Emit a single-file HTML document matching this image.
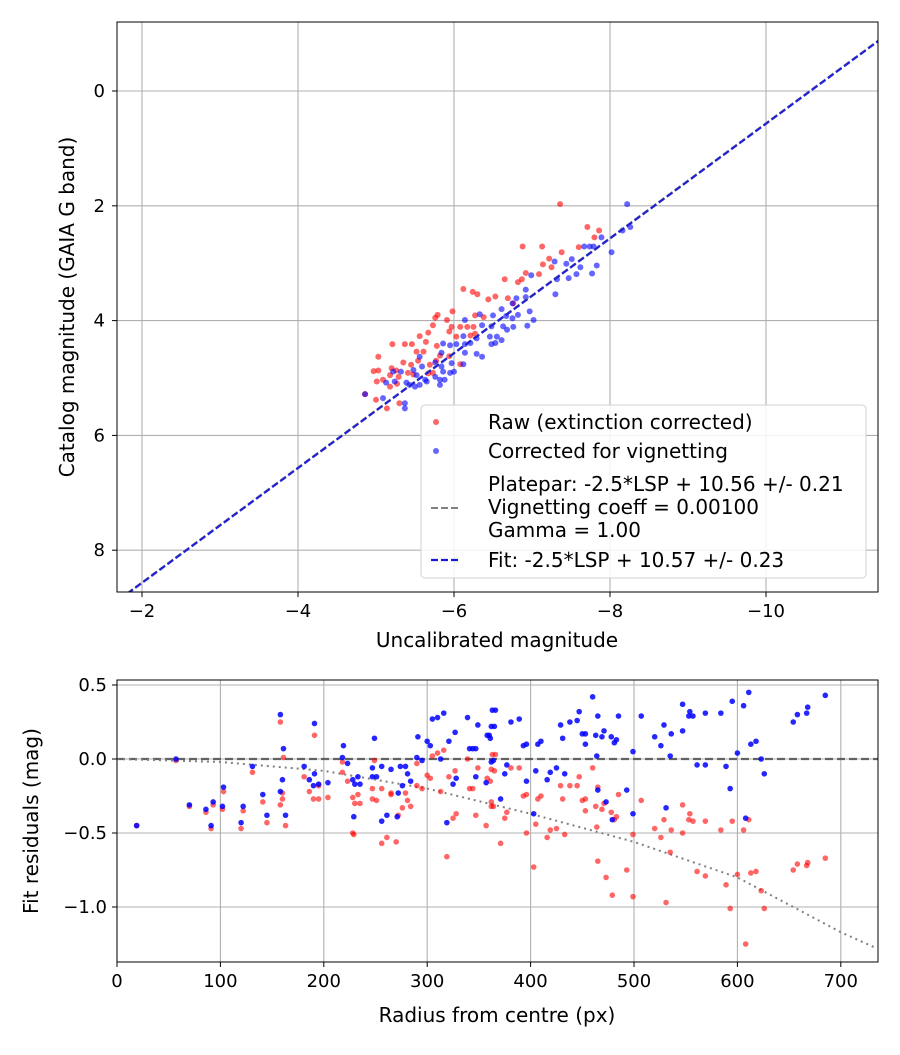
<!DOCTYPE html>
<html><head><meta charset="utf-8"><style>
body{margin:0;background:#fff}
svg text{font-family:"DejaVu Sans","Liberation Sans",sans-serif;fill:#000}
</style></head><body>
<svg id="c" width="900" height="1050" viewBox="0 0 900 1050" xmlns="http://www.w3.org/2000/svg">
<g id="top"></g>
<g id="bot"></g>
</svg>
<script>
// ----- top panel data -----
const topXTicks=[-2,-4,-6,-8,-10];
const topYTicks=[0,2,4,6,8];
const rawX=[-7.36,-7.71,-7.86,-7.8,-6.88,-7.13,-7.38,-7.6,-7.22,-7.14,-7.25,-6.92,-7.09,-6.82,-6.87,-6.65,-6.12,-6.24,-6.3,-6.44,-6.53,-6.69,-6.76,-5.98,-5.79,-5.76,-5.91,-6.27,-6.38,-5.73,-5.97,-6.08,-6.17,-6.25,-5.56,-5.67,-5.64,-5.37,-5.46,-5.78,-5.94,-6.03,-6.27,-6.21,-5.21,-5.52,-5.61,-5.82,-5.94,-5.03,-5.35,-5.45,-5.54,-5.69,-5.77,-4.97,-5.03,-5.2,-5.26,-5.18,-5.29,-5.41,-5.48,-5.01,-5.09,-5.18,-5.27,-5.67,-5.73,-6.08,-5.0,-5.14,-5.3,-4.86];
const rawY=[1.97,2.37,2.43,2.55,2.71,2.71,2.81,2.72,2.92,3.02,3.07,3.17,3.19,3.33,3.28,3.28,3.45,3.5,3.54,3.63,3.58,3.61,3.7,3.84,3.9,3.95,3.99,3.91,3.94,4.08,4.11,4.11,4.11,4.11,4.27,4.21,4.37,4.41,4.41,4.44,4.19,4.28,4.23,4.26,4.41,4.54,4.54,4.61,4.62,4.63,4.73,4.77,4.7,4.77,4.7,4.88,4.87,4.83,4.87,4.95,4.98,4.91,4.94,5.06,5.03,5.15,5.1,4.92,4.91,4.76,5.38,5.53,5.44,5.28];
const corX=[-8.22,-8.26,-8.16,-7.89,-8.02,-7.67,-7.74,-7.79,-7.83,-7.77,-7.57,-7.47,-7.62,-7.29,-7.44,-7.51,-6.99,-6.92,-7.32,-7.3,-6.92,-6.8,-6.75,-6.82,-6.97,-7.02,-6.94,-6.5,-6.61,-6.67,-6.75,-6.33,-6.14,-6.36,-6.48,-6.63,-6.68,-6.76,-6.46,-6.55,-6.61,-6.48,-6.53,-6.29,-6.21,-6.12,-5.86,-5.95,-6.03,-6.14,-5.84,-6.14,-6.29,-6.36,-5.97,-6.12,-5.76,-5.84,-5.56,-5.59,-5.86,-5.95,-6.0,-5.48,-5.52,-5.32,-5.22,-5.76,-5.82,-5.88,-5.63,-5.65,-5.13,-5.24,-5.39,-5.43,-5.5,-5.56,-5.82,-5.09,-5.37,-5.37,-4.86];
const corY=[1.97,2.37,2.43,2.55,2.81,2.71,2.71,2.71,3.04,3.18,3.19,3.26,3.07,2.97,3.01,2.93,3.21,3.46,3.28,3.54,3.59,3.61,3.7,3.9,3.84,3.99,4.09,3.91,3.8,3.92,3.96,3.89,3.99,4.08,4.1,4.1,4.16,4.11,4.28,4.28,4.34,4.41,4.39,4.31,4.39,4.27,4.4,4.43,4.41,4.41,4.56,4.56,4.58,4.63,4.74,4.76,4.73,4.8,4.63,4.8,4.89,4.91,4.89,4.86,4.95,4.89,4.89,4.98,5.03,5.03,5.03,5.06,5.08,5.06,5.08,5.12,5.15,5.12,5.12,5.35,5.44,5.53,5.28];
const fitZero=10.57;
// ----- bottom panel data -----
const botXTicks=[0,100,200,300,400,500,600,700];
const botYTicks=[0.5,0.0,-0.5,-1.0];
const resBlueR=[19,57,70,86,93,91,102,103,122,120,131,141,145,158,161,160,158,163,181,186,191,191,190,195,204,219,218,223,228,233,230,235,229,247,249,247,251,256,265,261,256,271,274,279,281,284,276,272,290,291,295,300,303,305,310,316,313,321,327,328,325,319,339,341,344,347,349,347,357,358,360,362,362,363,366,365,361,381,389,393,396,407,410,429,431,438,445,447,460,465,450,453,453,463,469,471,478,483,481,485,507,499,464,520,526,529,536,535,547,547,554,553,557,569,584,595,606,611,600,613,618,623,626,561,569,589,593,608,654,658,667,668,685,364,375,377,396,405,416,419,425,433,371,403,465,473,479,493,499,531];
const resBlueV=[-0.45,0.0,-0.31,-0.34,-0.29,-0.45,-0.32,-0.19,-0.32,-0.43,-0.05,-0.24,-0.38,0.30,0.07,-0.14,-0.22,-0.38,-0.05,-0.14,-0.1,0.24,-0.18,-0.17,-0.16,0.09,0.01,-0.03,-0.14,-0.12,-0.17,-0.17,-0.39,-0.06,0.14,-0.12,-0.12,-0.05,-0.07,-0.38,-0.42,-0.39,-0.05,-0.05,-0.1,-0.15,-0.18,-0.23,0.01,0.15,-0.01,0.12,0.09,0.27,0.28,0.31,0.0,0.12,0.18,-0.13,-0.17,-0.43,0.28,0.07,0.07,0.07,0.23,-0.12,-0.16,0.16,0.16,-0.02,0.22,0.33,0.33,0.22,0.14,0.25,0.27,0.09,0.1,0.1,0.12,0.23,0.14,0.25,0.26,0.32,0.42,0.29,0.17,0.17,0.10,0.16,0.15,0.19,0.15,0.13,0.11,0.29,0.29,0.05,0.02,0.15,0.09,0.23,0.17,0.02,0.37,0.19,0.32,0.29,0.29,0.31,0.31,0.39,0.36,0.45,0.04,0.1,0.12,0.0,-0.1,-0.04,-0.04,-0.05,-0.2,-0.4,0.25,0.3,0.31,0.35,0.43,-0.01,-0.1,-0.04,-0.15,-0.08,-0.14,-0.09,-0.06,-0.1,-0.27,-0.37,-0.21,-0.29,-0.41,-0.21,-0.37,-0.33];
const resRedR=[19,57,70,86,93,91,102,103,122,120,131,141,145,158,161,160,158,160,163,181,186,191,190,195,204,195,218,218,223,228,233,230,235,228,229,249,247,256,247,251,265,265,256,261,270,272,276,284,281,279,290,290,295,300,303,305,310,316,313,321,327,328,325,319,339,341,344,347,349,357,358,362,363,362,362,366,365,381,389,393,396,407,410,429,431,438,445,447,460,465,450,453,453,463,469,471,478,483,481,485,507,499,464,520,526,529,536,535,547,547,554,553,557,569,584,595,606,611,600,613,618,623,626,561,569,589,593,608,654,658,667,668,685,375,377,371,396,405,416,419,425,433,403,465,473,479,493,499,531,364,361];
const resRedV=[-0.45,-0.01,-0.32,-0.36,-0.31,-0.47,-0.34,-0.22,-0.35,-0.47,-0.09,-0.29,-0.43,0.25,0.01,-0.27,-0.31,-0.23,-0.45,-0.12,-0.22,0.16,-0.27,-0.27,-0.26,-0.18,-0.02,-0.09,-0.15,-0.26,-0.24,-0.3,-0.3,-0.5,-0.51,-0.01,-0.2,-0.2,-0.27,-0.28,-0.23,-0.24,-0.57,-0.53,-0.56,-0.38,-0.33,-0.32,-0.28,-0.23,-0.03,-0.18,-0.2,-0.11,-0.13,0.02,0.04,0.06,-0.22,-0.12,-0.08,-0.37,-0.4,-0.66,0.0,-0.2,-0.2,-0.38,-0.06,-0.45,-0.13,-0.07,0.03,-0.29,-0.32,0.03,-0.08,-0.06,-0.06,-0.25,-0.24,-0.27,-0.25,-0.18,-0.27,-0.18,-0.18,-0.12,-0.06,-0.19,-0.28,-0.27,-0.35,-0.32,-0.34,-0.3,-0.36,-0.39,-0.41,-0.24,-0.28,-0.51,-0.46,-0.47,-0.53,-0.41,-0.48,-0.63,-0.31,-0.5,-0.37,-0.41,-0.42,-0.42,-0.48,-0.42,-0.48,-0.41,-0.78,-0.77,-0.76,-0.89,-1.01,-0.76,-0.79,-0.85,-1.01,-1.25,-0.75,-0.71,-0.72,-0.7,-0.67,-0.4,-0.36,-0.57,-0.5,-0.44,-0.53,-0.48,-0.47,-0.51,-0.73,-0.69,-0.8,-0.92,-0.75,-0.93,-0.97,-0.32,-0.15];
const vigR=[0,100,200,300,400,500,600,700,735];
const vigV=[0,-0.02,-0.08,-0.2,-0.37,-0.56,-0.8,-1.17,-1.28];

const NS='http://www.w3.org/2000/svg';
const FS=20, TFS=18;
function mk(parent,tag,attrs){const e=document.createElementNS(NS,tag);for(const k in attrs)e.setAttribute(k,attrs[k]);parent.appendChild(e);return e;}
function fmt(v){return (v<0?'\u2212':'')+Math.abs(v);}

// top axes
const T={l:117,r:878,t:22,b:592};
const tx=v=>142+(-2-v)*78;
const ty=v=>91+v*57.4;
const gT=document.getElementById('top');
const gridT=mk(gT,'g',{});


topXTicks.forEach(v=>{
  mk(gridT,'line',{x1:tx(v),x2:tx(v),y1:T.t,y2:T.b,stroke:'#b0b0b0','stroke-width':1.1});
  mk(gT,'line',{x1:tx(v),x2:tx(v),y1:T.b,y2:T.b+5,stroke:'#000'});
  const t=mk(gT,'text',{x:tx(v),y:T.b+25,'font-size':TFS,'text-anchor':'middle'});t.textContent=fmt(v);
  
  
});
topYTicks.forEach(v=>{
  mk(gridT,'line',{x1:T.l,x2:T.r,y1:ty(v),y2:ty(v),stroke:'#b0b0b0','stroke-width':1.1});
  mk(gT,'line',{x1:T.l-5,x2:T.l,y1:ty(v),y2:ty(v),stroke:'#000'});
  const t=mk(gT,'text',{x:T.l-12,y:ty(v)+6,'font-size':TFS,'text-anchor':'end'});t.textContent=fmt(v);
  
  
});
const clipT=mk(gT,'clipPath',{id:'ct'});mk(clipT,'rect',{x:T.l,y:T.t,width:T.r-T.l,height:T.b-T.t});
const plotT=mk(gT,'g',{'clip-path':'url(#ct)'});
rawX.forEach((x,i)=>{const c=mk(plotT,'circle',{cx:tx(x),cy:ty(rawY[i]),r:3,fill:'red','fill-opacity':0.6});
  
  });
corX.forEach((x,i)=>{const c=mk(plotT,'circle',{cx:tx(x),cy:ty(corY[i]),r:3,fill:'blue','fill-opacity':0.6});
  
  });
const xa=-1.5,xb=-11.6;
const pl=mk(plotT,'line',{x1:tx(xa),y1:ty(xa+10.56),x2:tx(xb),y2:ty(xb+10.56),stroke:'#808080','stroke-width':2,'stroke-dasharray':'7,3'});


const fl=mk(plotT,'line',{x1:tx(xa),y1:ty(xa+fitZero),x2:tx(xb),y2:ty(xb+fitZero),stroke:'#1a1ad8','stroke-width':2.2,'stroke-dasharray':'7,3','stroke-opacity':0.95});


mk(gT,'rect',{x:T.l,y:T.t,width:T.r-T.l,height:T.b-T.t,fill:'none',stroke:'#000','stroke-width':1});
let lab=mk(gT,'text',{x:497,y:647,'font-size':FS,'text-anchor':'middle'});lab.textContent='Uncalibrated magnitude';


lab=mk(gT,'text',{x:74,y:307,'font-size':FS,'text-anchor':'middle',transform:'rotate(-90 74 307)'});lab.textContent='Catalog magnitude (GAIA G band)';


// legend
const lg=mk(gT,'g',{});


mk(lg,'rect',{x:421,y:405,width:445,height:173,rx:4,fill:'#fff','fill-opacity':0.85,stroke:'#d0d0d0'});
mk(lg,'circle',{cx:436,cy:422,r:3,fill:'red','fill-opacity':0.6});
mk(lg,'circle',{cx:436,cy:451,r:3,fill:'blue','fill-opacity':0.6});
mk(lg,'line',{x1:431,x2:459,y1:508,y2:508,stroke:'#808080','stroke-width':2,'stroke-dasharray':'7,3'});
mk(lg,'line',{x1:431,x2:459,y1:560,y2:560,stroke:'#1a1ad8','stroke-width':2.2,'stroke-dasharray':'7,3'});
[['Raw (extinction corrected)',429],['Corrected for vignetting',458],['Platepar: -2.5*LSP + 10.56 +/- 0.21',491],['Vignetting coeff = 0.00100',514],['Gamma = 1.00',537],['Fit: -2.5*LSP + 10.57 +/- 0.23',567]].forEach(a=>{
  const t=mk(lg,'text',{x:488,y:a[1],'font-size':FS});t.textContent=a[0];
  
  
});

// bottom axes
const B={l:117,r:878,t:680,b:962};
const bx=v=>117+v*1.034;
const by=v=>759-v*148;
const gB=document.getElementById('bot');
const gridB=mk(gB,'g',{});


botXTicks.forEach(v=>{
  mk(gridB,'line',{x1:bx(v),x2:bx(v),y1:B.t,y2:B.b,stroke:'#b0b0b0','stroke-width':1.1});
  mk(gB,'line',{x1:bx(v),x2:bx(v),y1:B.b,y2:B.b+5,stroke:'#000'});
  const t=mk(gB,'text',{x:bx(v),y:B.b+25,'font-size':TFS,'text-anchor':'middle'});t.textContent=v;
  
  
});
botYTicks.forEach(v=>{
  mk(gridB,'line',{x1:B.l,x2:B.r,y1:by(v),y2:by(v),stroke:'#b0b0b0','stroke-width':1.1});
  mk(gB,'line',{x1:B.l-5,x2:B.l,y1:by(v),y2:by(v),stroke:'#000'});
  const t=mk(gB,'text',{x:B.l-10,y:by(v)+6,'font-size':TFS,'text-anchor':'end'});
  t.textContent=v<0?'\u2212'+Math.abs(v).toFixed(1):v.toFixed(1);
  
  
});
const clipB=mk(gB,'clipPath',{id:'cb'});mk(clipB,'rect',{x:B.l,y:B.t,width:B.r-B.l,height:B.b-B.t});
const plotB=mk(gB,'g',{'clip-path':'url(#cb)'});
const zl=mk(plotB,'line',{x1:B.l,x2:B.r,y1:by(0),y2:by(0),stroke:'#555','stroke-width':2.2,'stroke-dasharray':'8,4','stroke-opacity':0.9});


const vp=mk(plotB,'polyline',{points:vigR.map((r,i)=>bx(r)+','+by(vigV[i])).join(' '),fill:'none',stroke:'#808080','stroke-width':2,'stroke-dasharray':'2,4'});


resRedR.forEach((r,i)=>{const c=mk(plotB,'circle',{cx:bx(r),cy:by(resRedV[i]),r:2.8,fill:'red','fill-opacity':0.6});
  
  });
resBlueR.forEach((r,i)=>{const c=mk(plotB,'circle',{cx:bx(r),cy:by(resBlueV[i]),r:2.8,fill:'blue','fill-opacity':0.85});
  
  });
mk(gB,'rect',{x:B.l,y:B.t,width:B.r-B.l,height:B.b-B.t,fill:'none',stroke:'#000','stroke-width':1});
lab=mk(gB,'text',{x:497,y:1022,'font-size':FS,'text-anchor':'middle'});lab.textContent='Radius from centre (px)';


lab=mk(gB,'text',{x:38,y:821,'font-size':FS,'text-anchor':'middle',transform:'rotate(-90 38 821)'});lab.textContent='Fit residuals (mag)';


</script>
</body></html>
